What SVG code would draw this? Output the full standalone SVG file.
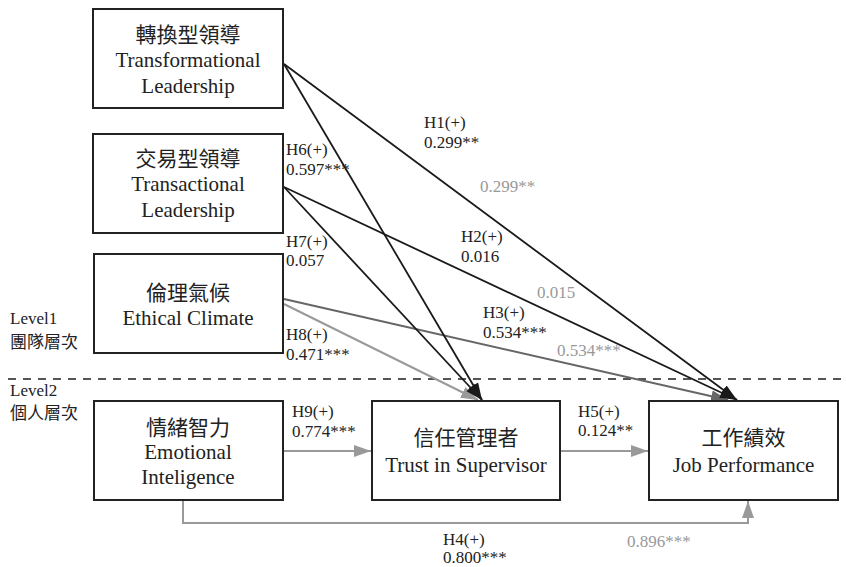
<svg xmlns="http://www.w3.org/2000/svg" width="846" height="567" viewBox="0 0 846 567" font-family="'Liberation Serif', 'DejaVu Serif', serif">
<style>
text{fill:#222;}
.box{fill:#fff;stroke:#222;stroke-width:2;}
.bt{font-size:21px;text-anchor:middle;}
.lb{font-size:17px;}
.gv{font-size:17px;fill:#999;}
.lv{font-size:17px;}
.blk{fill:none;stroke:#1a1a1a;stroke-width:1.8;}
.gry{fill:none;stroke:#999;stroke-width:2;}
.dgy{fill:none;stroke:#666;stroke-width:2;}
</style>
<defs>
<marker id="hb" markerUnits="userSpaceOnUse" markerWidth="20" markerHeight="14" viewBox="0 0 20 14" refX="17" refY="7" orient="auto"><path d="M0,1.5 L17,7 L0,12.5 Z" fill="#1a1a1a"/></marker>
<marker id="hg" markerUnits="userSpaceOnUse" markerWidth="20" markerHeight="14" viewBox="0 0 20 14" refX="17" refY="7" orient="auto"><path d="M0,1 L17,7 L0,13 Z" fill="#999"/></marker>
<marker id="hd" markerUnits="userSpaceOnUse" markerWidth="20" markerHeight="14" viewBox="0 0 20 14" refX="17" refY="7" orient="auto"><path d="M0,1 L17,7 L0,13 Z" fill="#666"/></marker>
</defs>
<rect width="846" height="567" fill="#fff"/>
<g id="level-divider">
<line x1="8" y1="379" x2="846" y2="379" stroke="#555" stroke-width="2" stroke-dasharray="8 7"/>
<text class="lv" x="10" y="324">Level1</text>
<text class="lv" x="10" y="348" font-family="'Noto Sans CJK TC', sans-serif" font-size="16">團隊層次</text>
<text class="lv" x="10" y="396">Level2</text>
<text class="lv" x="10" y="419" font-family="'Noto Sans CJK TC', sans-serif" font-size="16">個人層次</text>
</g>
<g id="connectors">
<path class="dgy" d="M284,299 L728,400" marker-end="url(#hd)"/>
<path class="gry" d="M284,304 L478,400" marker-end="url(#hg)"/>
<path class="blk" d="M284,64 L737,400" marker-end="url(#hb)"/>
<path class="blk" d="M284,187 L737,400" marker-end="url(#hb)"/>
<path class="blk" d="M284,64 L482,400" marker-end="url(#hb)"/>
<path class="blk" d="M284,187 L482,400" marker-end="url(#hb)"/>
<path class="gry" d="M283,451 L371,451" marker-end="url(#hg)"/>
<path class="gry" d="M560,451 L648,451" marker-end="url(#hg)"/>
<path class="gry" d="M183,500 L183,523 L748,523 L748,501" marker-end="url(#hg)"/>
</g>
<g id="labels">
<text class="lb" x="424" y="128">H1(+)</text>
<text class="lb" x="424" y="148">0.299**</text>
<text class="gv" x="480" y="192">0.299**</text>
<text class="lb" x="286" y="155">H6(+)</text>
<text class="lb" x="286" y="175">0.597***</text>
<text class="lb" x="461" y="242">H2(+)</text>
<text class="lb" x="461" y="262">0.016</text>
<text class="gv" x="537" y="298">0.015</text>
<text class="lb" x="286" y="247">H7(+)</text>
<text class="lb" x="286" y="266">0.057</text>
<text class="lb" x="483" y="318">H3(+)</text>
<text class="lb" x="483" y="338">0.534***</text>
<text class="gv" x="557" y="356">0.534***</text>
<text class="lb" x="286" y="340">H8(+)</text>
<text class="lb" x="286" y="360">0.471***</text>
<text class="lb" x="292" y="417">H9(+)</text>
<text class="lb" x="292" y="437">0.774***</text>
<text class="lb" x="578" y="417">H5(+)</text>
<text class="lb" x="578" y="436">0.124**</text>
<text class="lb" x="443" y="545">H4(+)</text>
<text class="lb" x="443" y="563">0.800***</text>
<text class="gv" x="627" y="547">0.896***</text>
</g>
<g id="transformational">
<rect class="box" x="93" y="9" width="190" height="99"/>
<text class="bt" x="188" y="42" font-family="'Noto Sans CJK TC', sans-serif">轉換型領導</text>
<text class="bt" x="188" y="67">Transformational</text>
<text class="bt" x="188" y="93">Leadership</text>
</g>
<g id="transactional">
<rect class="box" x="93" y="134" width="190" height="99"/>
<text class="bt" x="188" y="166" font-family="'Noto Sans CJK TC', sans-serif">交易型領導</text>
<text class="bt" x="188" y="191">Transactional</text>
<text class="bt" x="188" y="217">Leadership</text>
</g>
<g id="ethical">
<rect class="box" x="94" y="254" width="189" height="99"/>
<text class="bt" x="188" y="300" font-family="'Noto Sans CJK TC', sans-serif">倫理氣候</text>
<text class="bt" x="188" y="325">Ethical Climate</text>
</g>
<g id="emotional">
<rect class="box" x="94" y="401" width="189" height="99"/>
<text class="bt" x="188" y="435" font-family="'Noto Sans CJK TC', sans-serif">情緒智力</text>
<text class="bt" x="188" y="459">Emotional</text>
<text class="bt" x="188" y="484">Inteligence</text>
</g>
<g id="trust">
<rect class="box" x="372" y="401" width="188" height="99"/>
<text class="bt" x="466" y="445" font-family="'Noto Sans CJK TC', sans-serif">信任管理者</text>
<text class="bt" x="466" y="472">Trust in Supervisor</text>
</g>
<g id="performance">
<rect class="box" x="649" y="401" width="189" height="99"/>
<text class="bt" x="743.5" y="445" font-family="'Noto Sans CJK TC', sans-serif">工作績效</text>
<text class="bt" x="743.5" y="472">Job Performance</text>
</g>
</svg>
